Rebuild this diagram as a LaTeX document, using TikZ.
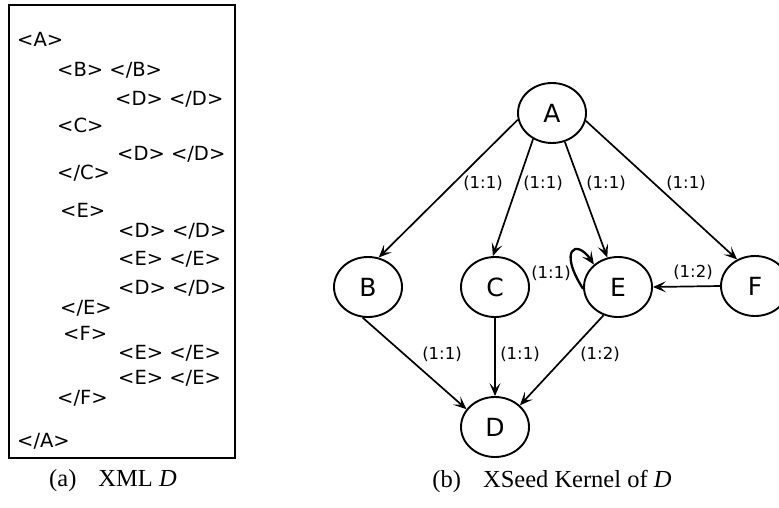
\documentclass[tikz,border=0pt]{standalone}
\usepackage{fontspec}
\setmainfont{Liberation Serif}
\newfontfamily\dv{DejaVu Sans}
\usetikzlibrary{shapes.geometric,arrows.meta}
\begin{document}
\begin{tikzpicture}[x=1pt,y=-1pt,
  gnode/.style={draw, ellipse, line width=1.9pt, minimum width=68pt, minimum height=60pt, inner sep=0pt, font=\dv\fontsize{25}{25}\selectfont},
  edge/.style={line width=1.7pt, -{Stealth[length=13pt,width=11pt,inset=6pt]}},
  elab/.style={font=\dv\fontsize{16.5}{16.5}\selectfont, inner sep=0pt},
  xml/.style={anchor=base west, inner sep=0pt, font=\dv\fontsize{19.5}{20}\selectfont},
  captext/.style={font=\fontsize{24.5}{24.5}\selectfont, inner sep=0pt}]
\useasboundingbox (0,0) rectangle (779,507);
% left box
\draw[line width=1.4pt] (9,5) rectangle (235,458);
\node[xml] (x1) at (17,46) {<A>};
\node[xml] (x2) at (57,76) {<B> </B>};
\node[xml] (x3) at (115,105) {<D> </D>};
\node[xml] (x4) at (57,132) {<C>};
\node[xml] (x5) at (117,160) {<D> </D>};
\node[xml] (x6) at (57,179) {</C>};
\node[xml] (x7) at (60,217) {<E>};
\node[xml] (x8) at (118,237) {<D> </D>};
\node[xml] (x9) at (118,265) {<E> </E>};
\node[xml] (x10) at (118,294) {<D> </D>};
\node[xml] (x11) at (60,314) {</E>};
\node[xml] (x12) at (63,340) {<F>};
\node[xml] (x13) at (118,359) {<E> </E>};
\node[xml] (x14) at (118,384) {<E> </E>};
\node[xml] (x15) at (57,404) {</F>};
\node[xml] (x16) at (17,447) {</A>};
% graph
\node[gnode] (A) at (552,113) {A};
\node[gnode] (B) at (368,287) {B};
\node[gnode] (C) at (495,287) {C};
\node[gnode] (E) at (618,287) {E};
\node[gnode] (F) at (755,286) {F};
\node[gnode] (D) at (495,427) {D};
\draw[edge] (A.191) -- (B.70);
\draw[edge] (A.234) -- (C.94);
\draw[edge] (A.294) -- (E.110);
\draw[edge] (A.347) -- (F.124);
\draw[edge] (F.180) -- (E.0);
\draw[edge] (B.260) -- (D.148);
\draw[edge] (C.270) -- (D.90);
\draw[edge] (E.243) -- (D.41);
\draw[edge, line width=2.3pt] (E.183) .. controls (558,250) and (576,238) .. (E.137);
\node[elab] (l1) at (483,183) {(1:1)};
\node[elab] (l2) at (543,183) {(1:1)};
\node[elab] (l3) at (606,183) {(1:1)};
\node[elab] (l4) at (686,183) {(1:1)};
\node[elab] (l5) at (551,273) {(1:1)};
\node[elab] (l6) at (693,272) {(1:2)};
\node[elab] (l7) at (442,354) {(1:1)};
\node[elab] (l8) at (520,354) {(1:1)};
\node[elab] (l9) at (600,354) {(1:2)};
% captions
\node[captext] (ca) at (113,481) {(a)\hspace{0.9em}XML \textit{D}};
\node[captext] (cb) at (552,481) {(b)\hspace{0.9em}XSeed Kernel of \textit{D}};
\end{tikzpicture}
\end{document}
